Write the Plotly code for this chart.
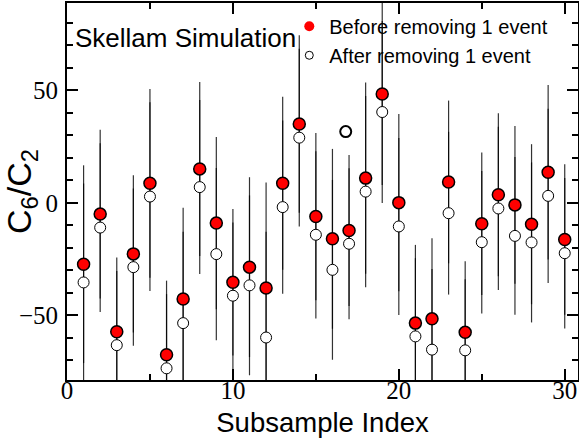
import plotly.graph_objects as go

# ---- data ----
subsample = list(range(1, 31))
before_vals = [-27.3, -5.0, -57.3, -22.7, 8.7, -67.6, -42.8, 15.1, -9.0, -35.3,
               -28.6, -37.9, 8.7, 35.1, -6.1, -16.0, -12.3, 11.0, 48.4, 0.1,
               -53.5, -51.6, 9.3, -57.6, -9.3, 3.6, -0.9, -9.5, 13.6, -16.3]
after_vals = [-35.4, -11.0, -63.3, -28.6, 2.8, -73.6, -53.5, 7.0, -22.8, -41.3,
              -36.7, -59.9, -1.9, 29.0, -14.2, -29.8, -18.2, 5.0, 40.4, -10.5,
              -59.4, -65.3, -4.6, -65.6, -17.5, -2.5, -14.7, -17.6, 3.1, -22.4]
errors = [44, 37.5, 33, 35, 42, 33, 40.6, 38.7, 38.3, 32.6,
          40, 47, 38.5, 39.5, 37.2, 40, 33.6, 42.5, 40.5, 39.4,
          34.8, 35.9, 36.2, 31.6, 31.7, 36.3, 35.1, 35.6, 38.8, 33.5]
stray_x = [16.8]
stray_y = [31.7]

x_ticks = [0, 10, 20, 30]
y_ticks = [-50, 0, 50]

fig = go.Figure()

err_color = "rgba(0,0,0,0.8)"
# error bars (drawn under all markers)
for vals in (before_vals, after_vals):
    fig.add_trace(go.Scatter(
        x=subsample, y=vals, mode="markers",
        marker=dict(size=1, color="rgba(0,0,0,0)"),
        error_y=dict(type="data", array=errors, visible=True,
                     color=err_color, thickness=1.2, width=0),
        showlegend=False, hoverinfo="skip"))

# open markers (after)
fig.add_trace(go.Scatter(
    x=subsample, y=after_vals, mode="markers",
    marker=dict(symbol="circle", size=11, color="white",
                line=dict(color="black", width=1)),
    showlegend=False))
# filled red markers (before)
fig.add_trace(go.Scatter(
    x=subsample, y=before_vals, mode="markers",
    marker=dict(symbol="circle", size=12, color="red",
                line=dict(color="black", width=1.5)),
    showlegend=False))
# stray open circle
fig.add_trace(go.Scatter(
    x=stray_x, y=stray_y, mode="markers",
    marker=dict(symbol="circle", size=11, color="white",
                line=dict(color="black", width=2)),
    showlegend=False))

# legend entries
fig.add_trace(go.Scatter(
    x=[None], y=[None], mode="markers", name="Before removing 1 event",
    marker=dict(symbol="circle", size=10, color="red", line=dict(width=0))))
fig.add_trace(go.Scatter(
    x=[None], y=[None], mode="markers", name="After removing 1 event",
    marker=dict(symbol="circle", size=8, color="white",
                line=dict(color="black", width=1))))

sans = "Liberation Sans, Arial, sans-serif"
serif = "Liberation Serif, Times New Roman, serif"

fig.add_annotation(
    text="Skellam Simulation", xref="paper", yref="paper",
    x=0.012, y=0.908, xanchor="left", yanchor="middle", showarrow=False,
    font=dict(family=sans, size=26, color="black"))

axis_common = dict(
    showline=True, linecolor="black", linewidth=2, mirror="allticks",
    ticks="inside", ticklen=11, tickwidth=1.5, tickcolor="black",
    showgrid=False, zeroline=False, automargin=False,
    tickfont=dict(family=serif, size=25, color="black"),
)

fig.update_xaxes(
    range=[0, 30.8], tickvals=x_ticks, ticktext=[str(v) for v in x_ticks],
    minor=dict(dtick=5, tick0=0, ticks="inside", ticklen=6, tickwidth=1.5,
               tickcolor="black", showgrid=False),
    title=dict(text="Subsample Index", standoff=10,
               font=dict(family=sans, size=27.5, color="black")),
    ticklabelstandoff=-13,
    **axis_common)
fig.update_yaxes(
    range=[-78.8, 88.9], tickvals=y_ticks,
    ticktext=["\u221250", "0", "50"],
    minor=dict(dtick=10, tick0=0, ticks="inside", ticklen=6, tickwidth=1.5,
               tickcolor="black", showgrid=False),
    title=dict(text="C<sub>6</sub>/C<sub>2</sub>", standoff=2,
               font=dict(family=sans, size=34, color="black")),
    ticklabelstandoff=2,
    **axis_common)

fig.update_layout(
    width=579, height=442,
    margin=dict(l=67, r=1, t=3, b=62),
    paper_bgcolor="white", plot_bgcolor="white",
    legend=dict(x=0.435, y=0.99, xanchor="left", yanchor="top",
                bgcolor="rgba(0,0,0,0)", borderwidth=0,
                font=dict(family=sans, size=20, color="black"),
                itemsizing="trace"),
    showlegend=True,
)

fig.write_html("out.html")
